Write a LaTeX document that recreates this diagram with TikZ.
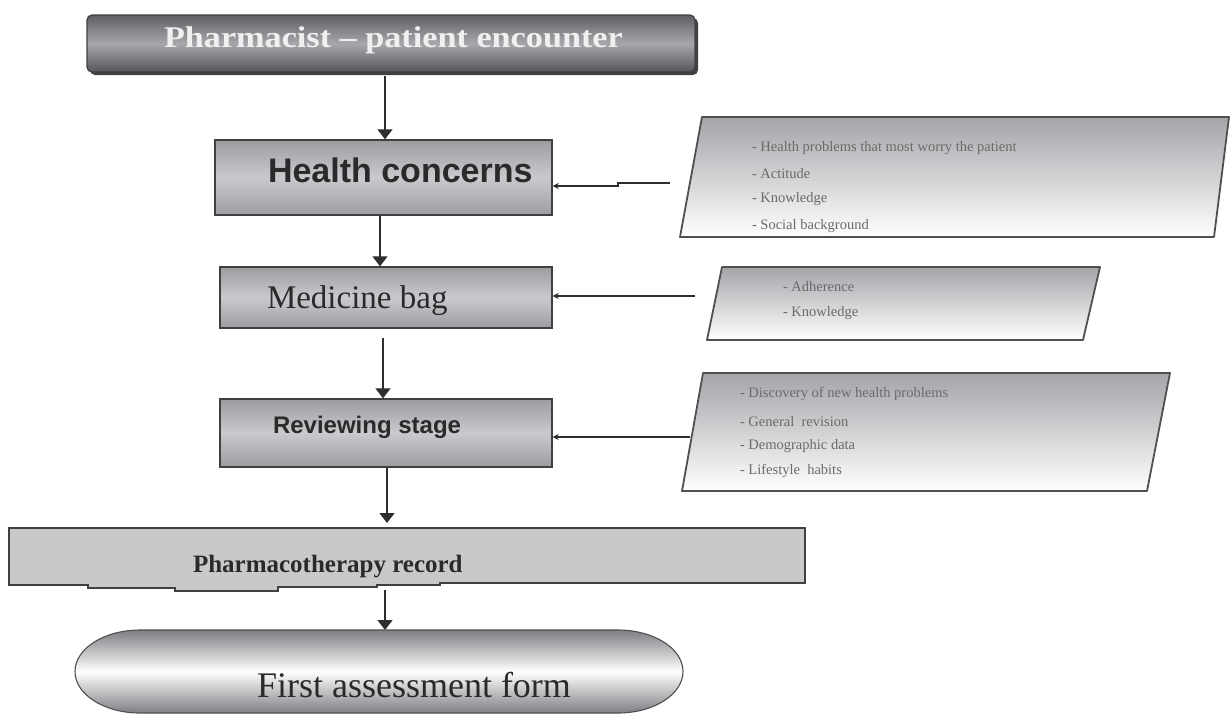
\documentclass[tikz,border=0pt]{standalone}
\usepackage{fontspec}
\usepackage{graphicx}
\setmainfont{Liberation Serif}
\newfontfamily\labelsans{Liberation Sans}
\usetikzlibrary{arrows.meta,shadows}

\definecolor{inkline}{HTML}{2E2E2E}
\definecolor{boxedge}{HTML}{404040}
\definecolor{headA}{HTML}{5E5F63}
\definecolor{headB}{HTML}{A7A8AC}
\definecolor{headC}{HTML}{55565A}
\definecolor{stageA}{HTML}{9C9DA1}
\definecolor{stageB}{HTML}{C9CACD}
\definecolor{recfill}{HTML}{C8C9CB}
\definecolor{noteA}{HTML}{A4A5A9}
\definecolor{noteedge}{HTML}{505050}
\definecolor{notetext}{HTML}{6A6A6A}
\definecolor{ovalA}{HTML}{7E7F83}
\definecolor{labeltext}{HTML}{2A2A2A}

\begin{document}
\begin{tikzpicture}[x=1pt,y=-1pt,
  headbox/.style={rectangle, rounded corners=5pt, draw=boxedge, line width=1.2pt,
    top color=headA, bottom color=headC, middle color=headB,
    drop shadow={shadow xshift=3pt, shadow yshift=-3pt, fill=boxedge, opacity=1}},
  stagebox/.style={rectangle, draw=boxedge, line width=1.4pt, inner sep=0pt,
    top color=stageA, bottom color=stageA, middle color=stageB},
  notebox/.style={draw=noteedge, line width=1.8pt, line join=round,
    top color=noteA, bottom color=white},
  recbox/.style={fill=recfill, draw=boxedge, line width=1.3pt},
  ovalbox/.style={draw=noteedge, line width=1.1pt,
    top color=ovalA, bottom color=ovalA, middle color=white},
  plain/.style={inner sep=0pt, outer sep=0pt},
  notetxt/.style={plain, anchor=west, text=notetext, font=\fontsize{14.5}{14.5}\selectfont},
  flow/.style={draw=inkline, line width=1.3pt, -{Triangle[width=15pt,length=10pt]}},
  side/.style={draw=inkline, line width=1.2pt, -{Stealth[width=6pt,length=6pt]}}]

\useasboundingbox (0,0) rectangle (1231,713);
\clip (0,0) rectangle (1231,713);

% ---- main column boxes
\node[headbox, minimum width=608pt, minimum height=57pt] (head) at (391,43.5) {};
\node[plain, anchor=base west, text=white!94!black, font=\bfseries\fontsize{30}{30}\selectfont]
  (headtxt) at (164,47) {\scalebox{1.14}[1]{Pharmacist – patient encounter}};

\node[stagebox, minimum width=337pt, minimum height=75pt] (health) at (383.5,177.5) {};
\node[plain, anchor=base west, text=labeltext, font=\labelsans\bfseries\fontsize{34}{34}\selectfont]
  (healthtxt) at (268,182) {Health concerns};

\node[stagebox, minimum width=332pt, minimum height=61pt] (med) at (386,297.5) {};
\node[plain, anchor=base west, text=labeltext, font=\fontsize{33}{33}\selectfont]
  (medtxt) at (267,308) {Medicine bag};

\node[stagebox, minimum width=332pt, minimum height=68pt] (rev) at (386,433) {};
\node[plain, anchor=base west, text=labeltext, font=\labelsans\bfseries\fontsize{24}{24}\selectfont]
  (revtxt) at (273,433) {Reviewing stage};

% record bar with its uneven lower edge
\path[recbox] (9,528) -- (805,528) -- (805,583) -- (440,583) -- (440,585) -- (377,585)
  -- (377,587) -- (278,587) -- (278,591) -- (175,591) -- (175,588) -- (88,588)
  -- (88,585) -- (9,585) -- cycle;
\node[plain, minimum width=796pt, minimum height=57pt] (pharm) at (407,556.5) {};
\node[plain, anchor=base west, text=labeltext, font=\bfseries\fontsize{25}{25}\selectfont]
  (pharmtxt) at (193,572) {Pharmacotherapy record};

% closing oval
\path[ovalbox] (140,630) -- (618,630) arc[start angle=90, end angle=-90, x radius=65pt, y radius=41.5pt]
  -- (140,713) arc[start angle=270, end angle=90, x radius=65pt, y radius=41.5pt] -- cycle;
\node[plain, minimum width=608pt, minimum height=83pt] (form) at (379,671.5) {};
\node[plain, anchor=base west, text=labeltext, font=\fontsize{36}{36}\selectfont]
  (formtxt) at (257,697) {First assessment form};

% ---- side notes
\path[notebox] (702,117) -- (1229,117) -- (1214,237) -- (680,237) -- cycle;
\node[notetxt] (n1a) at (752,148) {- Health problems that most worry the patient};
\node[notetxt] (n1b) at (752,174) {- Actitude};
\node[notetxt] (n1c) at (752,199) {- Knowledge};
\node[notetxt] (n1d) at (752,226) {- Social background};

\path[notebox] (722,267) -- (1100,267) -- (1083,340) -- (707,340) -- cycle;
\node[notetxt] (n2a) at (783,287) {- Adherence};
\node[notetxt] (n2b) at (783,313) {- Knowledge};

\path[notebox] (703,373) -- (1170,373) -- (1147,491) -- (682,491) -- cycle;
\node[notetxt] (n3a) at (740,394) {- Discovery of new health problems};
\node[notetxt] (n3b) at (740,422) {- General \ revision};
\node[notetxt] (n3c) at (740,446) {- Demographic data};
\node[notetxt] (n3d) at (740,471) {- Lifestyle \ habits};

% ---- connector anchors
\coordinate (fx1) at (385,0);
\coordinate (fx2) at (380,0);
\coordinate (fx4) at (387,0);
\coordinate (m3) at (383,338);
\coordinate (m3x) at (383,0);
\coordinate (m5) at (385,590);
\coordinate (m5x) at (385,0);
\coordinate (p1in) at (670,183);
\coordinate (p1k) at (618,183);
\coordinate (p1j) at (618,186);
\coordinate (p2in) at (695,296);
\coordinate (p3in) at (690,437);

% ---- main flow
\draw[flow] (head.south -| fx1) ++(0,3) -- (health.north -| fx1);
\draw[flow] (health.south -| fx2) -- (med.north -| fx2);
\draw[flow] (m3) -- (rev.north -| m3x);
\draw[flow, shorten >=5pt] (rev.south -| fx4) -- (pharm.north -| fx4);
\draw[flow] (m5) -- (form.north -| m5x);

% ---- inputs from the notes
\draw[side] (p1in) -- (p1k) -- (p1j) -- (health.east |- p1j);
\draw[side] (p2in) -- (med.east |- p2in);
\draw[side] (p3in) -- (rev.east |- p3in);
\end{tikzpicture}
\end{document}
